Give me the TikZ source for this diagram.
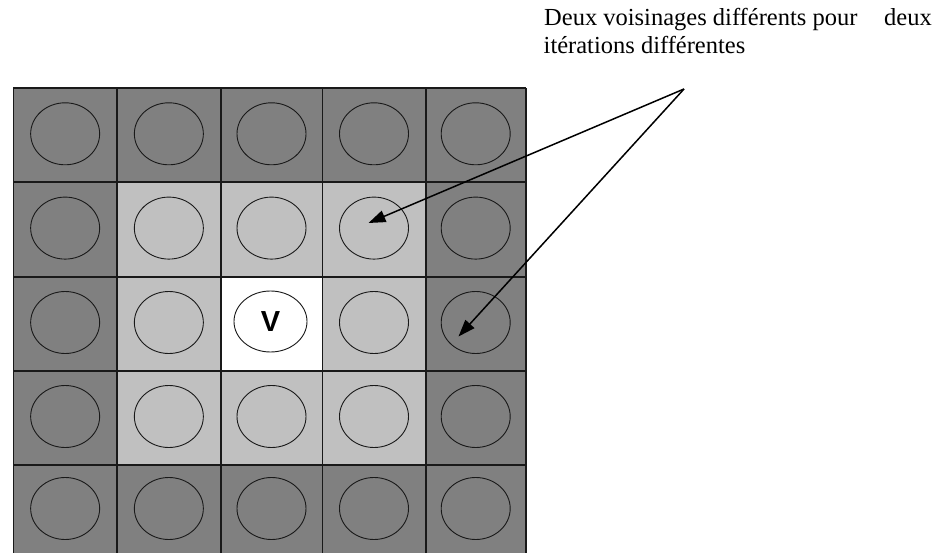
\documentclass[tikz,border=0pt]{standalone}
\usepackage{fontspec}
\setmainfont{Liberation Serif}
\newfontfamily\labelsans{Liberation Sans}
\usetikzlibrary{arrows.meta,shapes.geometric}
\definecolor{outerring}{RGB}{128,128,128}
\definecolor{innerring}{RGB}{192,192,192}
\begin{document}
\begin{tikzpicture}[x=1pt,y=-1pt,
  gridline/.style={draw=black!90,line width=1.6pt},
  cellring/.style={ellipse,draw=black!90,line width=0.9pt,minimum width=69pt,minimum height=62pt,inner sep=0pt},
  caption/.style={inner sep=0pt,font=\fontsize{24.5}{28}\selectfont},
  pointer/.style={draw=black,line width=1.5pt,-{Triangle[length=17pt,width=12pt]}}
]
\useasboundingbox (0,0) rectangle (939,553);
\clip (0,0) rectangle (939,553);

% cell shading: outer ring, inner ring, centre cell
\fill[outerring] (13.3,88.3) rectangle (525.7,556);
\fill[innerring] (117,182.3) rectangle (425.7,465);
\fill[white] (220.7,277) rectangle (322.3,371);

% grid lines
\foreach \x in {13.3,117,220.7,322.3,425.7,525.7}
  \draw[gridline] (\x,88.3) -- (\x,556);
\foreach \y in {88.3,182.3,277,371,465}
  \draw[gridline] (13.3,\y) -- (525.7,\y);

% one circle per cell; the centre one is drawn separately, a little wider
\foreach \cx [count=\c] in {65.15,168.85,271.5,374,475.7}
  \foreach \cy [count=\r] in {133.8,228.1,322.5,416.5,508.5} {
    \pgfmathtruncatemacro\iscentre{(\r==3)&&(\c==3)}
    \ifnum\iscentre=0
      \node[cellring] (ring-\r-\c) at (\cx,\cy) {};
    \fi
  }
\node[cellring,minimum width=73pt,minimum height=61pt] (centre) at (270.5,321.5) {};

% label of the centre cell
\node[inner sep=0pt,font=\labelsans\bfseries\fontsize{29}{29}\selectfont] (vlabel) at (centre.center) {V};

% caption
\node[caption,anchor=base west] (caption1) at (544,25.7) {Deux voisinages différents pour};
\node[caption,anchor=base east] (caption2) at (932,25.7) {deux};
\node[caption,anchor=base west] (caption3) at (543.5,54) {itérations différentes};

% pointers to the two neighbourhoods
\coordinate (apex) at (684,89);
\coordinate (tipA) at (368.5,223);
\coordinate (tipB) at (458.5,336.5);
\draw[pointer] (apex) -- (tipA);
\draw[pointer] (apex) -- (tipB);
\end{tikzpicture}
\end{document}
